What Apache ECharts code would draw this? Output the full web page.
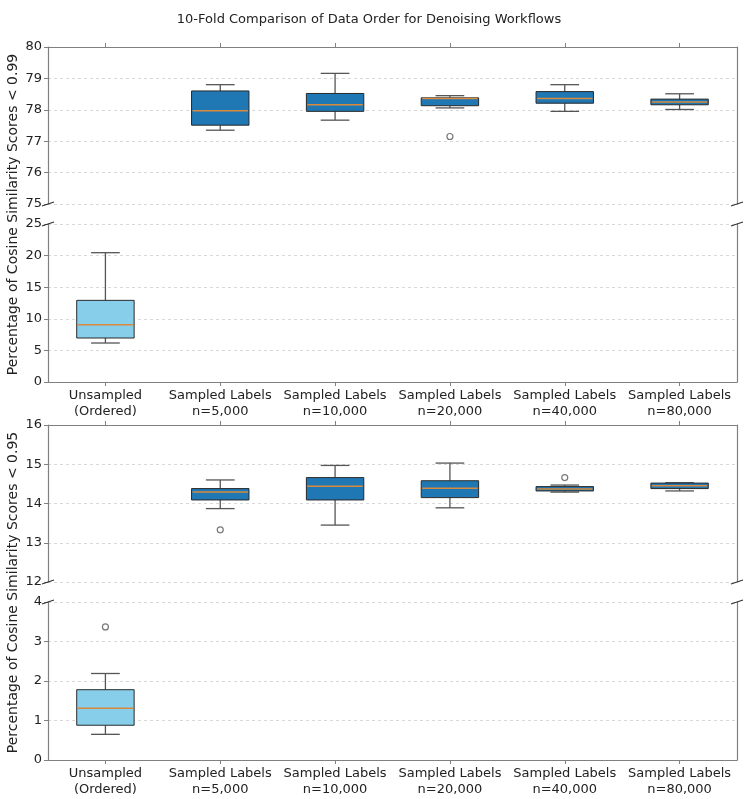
<!DOCTYPE html>
<html lang="en">
<head>
  <meta charset="UTF-8">
  <title>10-Fold Comparison of Data Order for Denoising Workflows</title>
  <script src="https://cdn.jsdelivr.net/npm/echarts@6/dist/echarts.min.js"></script>
  <style>
    body { margin: 0; padding: 0; background: #fff; }
    #chart { width: 749px; height: 799px; }
  </style>
</head>
<body>
  <div id="chart"></div>
  <script>
    // categories on the x axis
    var categories = [
      'Unsampled\n(Ordered)',
      'Sampled Labels\nn=5,000',
      'Sampled Labels\nn=10,000',
      'Sampled Labels\nn=20,000',
      'Sampled Labels\nn=40,000',
      'Sampled Labels\nn=80,000'
    ];

    // box stats: [category index, min, Q1, median, Q3, max]
    var sampled099 = [
      [1, 77.35, 77.51, 77.97, 78.60, 78.80],
      [2, 77.67, 77.95, 78.16, 78.52, 79.16],
      [3, 78.06, 78.13, 78.36, 78.38, 78.45],
      [4, 77.95, 78.21, 78.36, 78.58, 78.80],
      [5, 78.01, 78.16, 78.25, 78.34, 78.51]
    ];
    var unsampled099 = [[0, 6.17, 6.96, 9.07, 12.92, 20.46]];
    var outliers099Upper = [[3, 77.15]];

    var sampled095 = [
      [1, 13.87, 14.09, 14.29, 14.38, 14.60],
      [2, 13.45, 14.09, 14.44, 14.66, 14.97],
      [3, 13.89, 14.15, 14.39, 14.58, 15.03],
      [4, 14.29, 14.32, 14.37, 14.43, 14.47],
      [5, 14.32, 14.38, 14.45, 14.52, 14.53]
    ];
    var unsampled095 = [[0, 0.65, 0.88, 1.31, 1.78, 2.19]];
    var outliers095Upper = [[1, 13.33], [4, 14.66]];
    var outliers095Lower = [[0, 3.37]];

    // y ranges of the four panels (upper / lower of each broken axis)
    var yRanges = [
      { min: 75, max: 80, interval: 1 },
      { min: 0, max: 25, interval: 5 },
      { min: 12, max: 16, interval: 1 },
      { min: 0, max: 4, interval: 1 }
    ];

    var FONT = 'DejaVu Sans';
    var SPINE = '#808080';
    var LEFT = 48, RIGHT = 737;
    var panels = [
      { top: 47, height: 157 },
      { top: 224, height: 158 },
      { top: 425, height: 157 },
      { top: 602, height: 158 }
    ];

    function boxRenderer(fill) {
      return function (params, api) {
        var x = api.value(0);
        var lo = api.coord([x, api.value(1)]);
        var q1 = api.coord([x, api.value(2)]);
        var md = api.coord([x, api.value(3)]);
        var q3 = api.coord([x, api.value(4)]);
        var hi = api.coord([x, api.value(5)]);
        var w = api.size([1, 0])[0] * 0.5;
        var cx = lo[0];
        var whisker = { stroke: '#555', lineWidth: 1.3 };
        return {
          type: 'group',
          children: [
            { type: 'line', shape: { x1: cx, y1: q1[1], x2: cx, y2: lo[1] }, style: whisker },
            { type: 'line', shape: { x1: cx, y1: q3[1], x2: cx, y2: hi[1] }, style: whisker },
            { type: 'line', shape: { x1: cx - w / 4, y1: lo[1], x2: cx + w / 4, y2: lo[1] }, style: whisker },
            { type: 'line', shape: { x1: cx - w / 4, y1: hi[1], x2: cx + w / 4, y2: hi[1] }, style: whisker },
            {
              type: 'rect',
              shape: { x: cx - w / 2, y: q3[1], width: w, height: q1[1] - q3[1] },
              style: { fill: fill, stroke: '#2a2a2a', lineWidth: 1 }
            },
            {
              type: 'line',
              shape: { x1: cx - w / 2 + 1, y1: md[1], x2: cx + w / 2 - 1, y2: md[1] },
              style: { stroke: '#d98a3d', lineWidth: 1.5 }
            }
          ]
        };
      };
    }

    var grids = [], xAxes = [], yAxes = [], series = [];
    panels.forEach(function (p, i) {
      var isUpper = i % 2 === 0;
      grids.push({ left: LEFT, width: RIGHT - LEFT, top: p.top, height: p.height });
      xAxes.push({
        type: 'category',
        gridIndex: i,
        data: categories,
        position: isUpper ? 'top' : 'bottom',
        boundaryGap: true,
        axisLine: { show: true, onZero: false, lineStyle: { color: SPINE, width: 1.2 } },
        axisTick: { show: true, alignWithLabel: true, length: 4, lineStyle: { color: SPINE } },
        axisLabel: {
          show: !isUpper,
          color: '#222',
          fontFamily: FONT,
          fontSize: 13,
          lineHeight: 16,
          margin: 6,
          interval: 0
        },
        splitLine: { show: false }
      });
      yAxes.push({
        type: 'value',
        gridIndex: i,
        min: yRanges[i].min,
        max: yRanges[i].max,
        interval: yRanges[i].interval,
        axisLine: { show: true, lineStyle: { color: SPINE, width: 1.2 } },
        axisTick: { show: true, length: 4, lineStyle: { color: SPINE } },
        axisLabel: { color: '#222', fontFamily: FONT, fontSize: 13, margin: 6 },
        splitLine: { show: true, lineStyle: { color: '#cfcfcf', type: [3, 3], width: 0.8 } }
      });
    });
    // right-hand spines
    panels.forEach(function (p, i) {
      yAxes.push({
        type: 'value',
        gridIndex: i,
        position: 'right',
        min: yRanges[i].min,
        max: yRanges[i].max,
        axisLine: { show: true, lineStyle: { color: SPINE, width: 1.2 } },
        axisTick: { show: false },
        axisLabel: { show: false },
        splitLine: { show: false }
      });
    });

    function boxSeries(idx, data, fill) {
      return {
        type: 'custom',
        xAxisIndex: idx,
        yAxisIndex: idx,
        renderItem: boxRenderer(fill),
        encode: { x: 0, y: [1, 2, 3, 4, 5] },
        data: data,
        z: 3
      };
    }
    function outlierSeries(idx, data) {
      return {
        type: 'scatter',
        xAxisIndex: idx,
        yAxisIndex: idx,
        symbol: 'circle',
        symbolSize: 6,
        itemStyle: { color: '#fff', borderColor: '#555', borderWidth: 1.2 },
        data: data,
        z: 4
      };
    }

    series.push(boxSeries(0, sampled099, '#1f77b4'));
    series.push(outlierSeries(0, outliers099Upper));
    series.push(boxSeries(1, unsampled099, '#87ceeb'));
    series.push(boxSeries(2, sampled095, '#1f77b4'));
    series.push(outlierSeries(2, outliers095Upper));
    series.push(boxSeries(3, unsampled095, '#87ceeb'));
    series.push(outlierSeries(3, outliers095Lower));

    // diagonal break marks where the axes are cut
    var breakMarks = [];
    [[0, 1], [2, 3]].forEach(function (pair) {
      var yCut1 = panels[pair[0]].top + panels[pair[0]].height;
      var yCut2 = panels[pair[1]].top;
      [LEFT, RIGHT].forEach(function (x) {
        [yCut1, yCut2].forEach(function (y) {
          breakMarks.push({
            type: 'line',
            shape: { x1: x - 6, y1: y + 2, x2: x + 6, y2: y - 2 },
            style: { stroke: '#333', lineWidth: 1.2 },
            z: 10
          });
        });
      });
    });

    var yLabels = [
      { text: 'Percentage of Cosine Similarity Scores < 0.99', y: (panels[0].top + panels[1].top + panels[1].height) / 2 },
      { text: 'Percentage of Cosine Similarity Scores < 0.95', y: (panels[2].top + panels[3].top + panels[3].height) / 2 }
    ];
    var labelGraphics = yLabels.map(function (l) {
      return {
        type: 'text',
        x: 13,
        y: l.y,
        rotation: Math.PI / 2,
        style: {
          text: l.text,
          fill: '#222',
          font: '14px "' + FONT + '"',
          align: 'center',
          verticalAlign: 'middle'
        }
      };
    });

    var chart = echarts.init(document.getElementById('chart'));
    chart.setOption({
      animation: false,
      backgroundColor: '#fff',
      title: {
        text: '10-Fold Comparison of Data Order for Denoising Workflows',
        left: 364,
        textAlign: 'center',
        top: 8,
        textStyle: { fontFamily: FONT, fontSize: 13, fontWeight: 'normal', color: '#222' }
      },
      grid: grids,
      xAxis: xAxes,
      yAxis: yAxes,
      series: series,
      graphic: breakMarks.concat(labelGraphics)
    });
  </script>
</body>
</html>
